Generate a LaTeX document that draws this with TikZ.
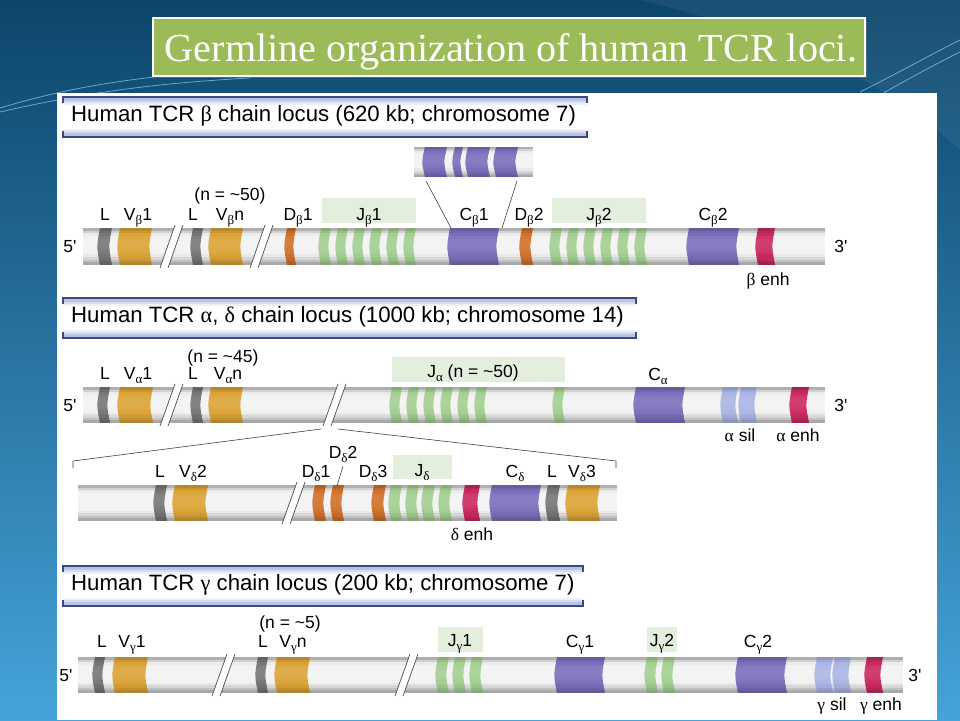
\documentclass[tikz,border=0pt]{standalone}
\usepackage{graphicx}
\usepackage{fontspec}
\setmainfont{Liberation Sans}
\newfontfamily\grk{Liberation Serif}
\newfontfamily\ttlfont{Liberation Serif}
\usetikzlibrary{shadows}

\definecolor{bgtop}{HTML}{0C456A}
\definecolor{bgbot}{HTML}{46A3D9}
\definecolor{ttlgreen}{HTML}{9BBB59}
\definecolor{hdrline}{HTML}{3B4A7A}
\definecolor{hdrband}{HTML}{B7C2E6}
\definecolor{barbase}{HTML}{F2F2F2}
\definecolor{vgold}{HTML}{DBA336}
\definecolor{lgray}{HTML}{767676}
\definecolor{dorange}{HTML}{CF712B}
\definecolor{jgreen}{HTML}{A2CE90}
\definecolor{jbox}{HTML}{E3EFDC}
\definecolor{cpurple}{HTML}{7D6EBB}
\definecolor{enhred}{HTML}{CB2A5E}
\definecolor{silblue}{HTML}{AAB5E4}
\definecolor{swoosh}{HTML}{7FD3F0}

\newcommand{\sbs}[1]{\raisebox{-0.28em}{\fontsize{13}{13}\selectfont\grk #1}}
\newcommand{\prm}{\textquotesingle}
% banded cylinder fill: colour x1 x2 ytop ybot Ledge Lmid
\newcommand{\cylbands}[7]{%
  \foreach \ci in {0,...,13}{%
    \pgfmathsetmacro{\cyT}{(\ci+0.5)/14}%
    \pgfmathsetmacro{\cyL}{\cyT<0.4 ? #7+(#6-#7)*((0.4-\cyT)/0.4)^2 : #7+(#6-#7)*((\cyT-0.4)/0.6)^2}%
    \pgfmathsetmacro{\cya}{#4+(#5-#4)*\ci/14}%
    \pgfmathsetmacro{\cyb}{#4+(#5-#4)*(\ci+1)/14+0.4}%
    \ifdim\cyL pt<0pt
      \pgfmathsetmacro{\cyk}{100+\cyL}\fill[#1!\cyk!black] ({#2},{\cya}) rectangle ({#3},{\cyb});
    \else
      \pgfmathsetmacro{\cyk}{100-\cyL}\fill[#1!\cyk!white] ({#2},{\cya}) rectangle ({#3},{\cyb});
    \fi}}
% chromosome bar: x1 x2 ytop ybot
\newcommand{\chrbar}[4]{\begin{scope}\clip ({#1},{#3}) rectangle ({#2},{#4});\cylbands{barbase}{#1}{#2}{#3}{#4}{-36}{12}\end{scope}}
% segment: colour x1 x2 ytop ybot
\newcommand{\sgm}[5]{\begin{scope}\clip ({#2},{#4}) .. controls ({#2-3.5},{(#4+#5)/2}) .. ({#2},{#5}) -- ({#3},{#5}) .. controls ({#3-3.5},{(#4+#5)/2}) .. ({#3},{#4}) -- cycle;
  \cylbands{#1}{#2-3}{#3+1}{#4}{#5}{-22}{10}\end{scope}}
% break: xbottom ytop ybot
\newcommand{\brk}[3]{\fill[white] ({#1},{#3+3}) -- ({#1+15},{#2-3}) -- ({#1+23},{#2-3}) -- ({#1+8},{#3+3}) -- cycle;
  \draw[brkline] ({#1},{#3+3}) -- ({#1+15},{#2-3}) ({#1+8},{#3+3}) -- ({#1+23},{#2-3});}
% header: name ytop xright text
\newcommand{\hdr}[4]{\fill[hdrband] (63,{#2}) rectangle ({#3},{#2+4});
  \fill[hdrband!55!white] (63,{#2+4}) rectangle ({#3},{#2+6});
  \fill[hdrband!25!white] (63,{#2+6}) rectangle ({#3},{#2+8});
  \fill[hdrband!25!white] (63,{#2+32}) rectangle ({#3},{#2+34});
  \fill[hdrband!55!white] (63,{#2+34}) rectangle ({#3},{#2+36});
  \fill[hdrband] (63,{#2+36}) rectangle ({#3},{#2+40});
  \draw[hdrline, line width=1.6pt] (63,{#2+6}) -- (63,{#2}) -- ({#3},{#2}) -- ({#3},{#2+6});
  \draw[hdrline, line width=1.6pt] (63,{#2+34}) -- (63,{#2+40}) -- ({#3},{#2+40}) -- ({#3},{#2+34});
  \node[hdrtext] (#1) at (71,{#2+24}) {#4};}

\begin{document}
\begin{tikzpicture}[x=1pt,y=-1pt,
  lbl/.style={font=\fontsize{17.5}{17.5}\selectfont, inner sep=0pt, anchor=base},
  hdrtext/.style={font=\fontsize{22.2}{22.2}\selectfont, inner sep=0pt, anchor=base west},
  brkline/.style={draw=black!70, line width=0.7pt},
  zoomline/.style={draw=black!75, line width=0.6pt}]
\useasboundingbox (0,0) rectangle (960,720);

% background
\shade[top color=bgtop, bottom color=bgbot] (0,0) rectangle (960,720);
\begin{scope}[swoosh, line width=0.8pt, opacity=0.7]
  \draw (0,108) .. controls (60,90) and (120,78) .. (230,70);
  \draw (0,112) .. controls (70,96) and (140,84) .. (250,78);
  \draw (860,92) .. controls (900,72) and (930,55) .. (960,40);
  \draw (880,95) .. controls (915,75) and (940,62) .. (960,52);
\end{scope}
\fill[white, opacity=0.06] (640,0) .. controls (760,30) and (860,60) .. (960,150) -- (960,0) -- cycle;

% title
\node[fill=ttlgreen, draw=white, line width=1.5pt, minimum width=712pt, minimum height=58pt,
  drop shadow={shadow xshift=2pt, shadow yshift=-2pt, opacity=0.45}] (titlebox) at (509,47) {};
\node[text=white, inner sep=0pt, anchor=base] (title) at (511,61)
  {\resizebox{692pt}{28pt}{\ttlfont Germline organization of human TCR loci.}};

% white panel
\fill[white] (57,93) rectangle (937,720);

% headers
\hdr{hB}{97}{587}{Human TCR {\grk β} chain locus (620 kb; chromosome 7)}
\hdr{hA}{298}{636}{Human TCR {\grk α}, {\grk δ} chain locus (1000 kb; chromosome 14)}
\hdr{hG}{566}{583}{Human TCR {\grk γ} chain locus (200 kb; chromosome 7)}

% ================= beta =================
\fill[jbox] (322,198) rectangle (416,223);
\fill[jbox] (552,198) rectangle (646,223);
\chrbar{83}{825}{228}{265}
\sgm{lgray}{100}{112}{228}{265}
\sgm{vgold}{120}{152}{228}{265}
\sgm{lgray}{193}{203}{228}{265}
\sgm{vgold}{211}{243}{228}{265}
\sgm{dorange}{287}{296}{228}{265}
\foreach \x in {321,338,355,372,389,406} {\sgm{jgreen}{\x}{\x+10}{228}{265}}
\sgm{cpurple}{450}{499}{228}{265}
\sgm{dorange}{522}{533}{228}{265}
\foreach \x in {552,569,586,603,620,637} {\sgm{jgreen}{\x}{\x+10}{228}{265}}
\sgm{cpurple}{689}{739}{228}{265}
\sgm{enhred}{758}{775}{228}{265}
\brk{160}{228}{265}
\brk{250}{228}{265}
% inset of C beta 1
\chrbar{414}{533}{147}{177}
\sgm{cpurple}{425}{447}{147}{177}
\sgm{cpurple}{455}{463}{147}{177}
\sgm{cpurple}{468}{490}{147}{177}
\sgm{cpurple}{496}{518}{147}{177}
\coordinate (insL) at (426,181);
\coordinate (insR) at (517,181);
\coordinate (cb1L) at (451,228);
\coordinate (cb1R) at (502,228);
\draw[zoomline] (insL) -- (cb1L);
\draw[zoomline] (insR) -- (cb1R);

\node[lbl] (b5) at (70,252) {5\prm};
\node[lbl] (b3) at (841,252) {3\prm};
\node[lbl] (bL1) at (105,220) {L};
\node[lbl] (bV1) at (138,220) {V\sbs{β}1};
\node[lbl] (bn) at (230,200) {(n = \textasciitilde50)};
\node[lbl] (bL2) at (193,220) {L};
\node[lbl] (bVn) at (230,220) {V\sbs{β}n};
\node[lbl] (bD1) at (298,220) {D\sbs{β}1};
\node[lbl] (bJ1) at (369,220) {J\sbs{β}1};
\node[lbl] (bC1) at (474,220) {C\sbs{β}1};
\node[lbl] (bD2) at (529,220) {D\sbs{β}2};
\node[lbl] (bJ2) at (599,220) {J\sbs{β}2};
\node[lbl] (bC2) at (713,220) {C\sbs{β}2};
\node[lbl] (benh) at (768,285) {{\grk β} enh};

% ================= alpha =================
\fill[jbox] (392,357) rectangle (565,382);
\chrbar{83}{825}{387}{423}
\sgm{lgray}{100}{110}{387}{423}
\sgm{vgold}{120}{153}{387}{423}
\sgm{lgray}{193}{203}{387}{423}
\sgm{vgold}{211}{243}{387}{423}
\foreach \x in {392,409,426,443,460,477} {\sgm{jgreen}{\x}{\x+10}{387}{423}}
\sgm{jgreen}{555}{565}{387}{423}
\sgm{cpurple}{636}{685}{387}{423}
\sgm{silblue}{723}{738}{387}{423}
\sgm{silblue}{741}{757}{387}{423}
\sgm{enhred}{792}{809}{387}{423}
\brk{160}{387}{423}
\brk{323}{387}{423}

\node[lbl] (a5) at (70,411) {5\prm};
\node[lbl] (a3) at (841,411) {3\prm};
\node[lbl] (aL1) at (105,379) {L};
\node[lbl] (aV1) at (138,379) {V\sbs{α}1};
\node[lbl] (an) at (223,362) {(n = \textasciitilde45)};
\node[lbl] (aL2) at (193,379) {L};
\node[lbl] (aVn) at (228,379) {V\sbs{α}n};
\node[lbl] (aJ) at (473,377) {J\sbs{α} (n = \textasciitilde50)};
\node[lbl] (aC) at (658,380) {C\sbs{α}};
\node[lbl] (asil) at (740,441) {{\grk α} sil};
\node[lbl] (aenh) at (798,441) {{\grk α} enh};

% expansion lines to delta
\coordinate (abL) at (321,429);
\coordinate (abR) at (338,429);
\coordinate (dbL) at (73,461);
\coordinate (dbR) at (616,461);
\draw[zoomline] (abL) -- (dbL) -- ++(0,7);
\draw[zoomline] (abR) -- (dbR) -- ++(0,7);

% ================= delta =================
\fill[jbox] (393,455) rectangle (452,479);
\chrbar{78}{617}{485}{521}
\sgm{lgray}{156}{167}{485}{521}
\sgm{vgold}{175}{208}{485}{521}
\sgm{dorange}{315}{326}{485}{521}
\sgm{dorange}{333}{344}{485}{521}
\sgm{dorange}{374}{386}{485}{521}
\foreach \x in {391,408,424,441} {\sgm{jgreen}{\x}{\x+11}{485}{521}}
\sgm{enhred}{465}{480}{485}{521}
\sgm{cpurple}{492}{541}{485}{521}
\sgm{lgray}{548}{560}{485}{521}
\sgm{vgold}{568}{600}{485}{521}
\brk{282}{485}{521}

\node[lbl] (dL1) at (160,477) {L};
\node[lbl] (dV2) at (193,477) {V\sbs{δ}2};
\node[lbl] (dD1) at (316,477) {D\sbs{δ}1};
\node[lbl] (dD2) at (343,458) {D\sbs{δ}2};
\node[lbl] (dD3) at (373,477) {D\sbs{δ}3};
\node[lbl] (dJ) at (422,476) {J\sbs{δ}};
\node[lbl] (dC) at (515,477) {C\sbs{δ}};
\node[lbl] (dL2) at (552,477) {L};
\node[lbl] (dV3) at (582,477) {V\sbs{δ}3};
\node[lbl] (denh) at (472,540) {{\grk δ} enh};
\coordinate (dD2seg) at (337,486);
\draw[zoomline] ([yshift=-3pt]dD2.south) -- (dD2seg);

% ================= gamma =================
\fill[jbox] (438,627) rectangle (483,652);
\fill[jbox] (647,627) rectangle (677,652);
\chrbar{78}{903}{657}{693}
\sgm{lgray}{95}{105}{657}{693}
\sgm{vgold}{115}{148}{657}{693}
\sgm{lgray}{258}{268}{657}{693}
\sgm{vgold}{277}{310}{657}{693}
\foreach \x in {438,455,472} {\sgm{jgreen}{\x}{\x+11}{657}{693}}
\sgm{cpurple}{557}{605}{657}{693}
\foreach \x in {647,664} {\sgm{jgreen}{\x}{\x+11}{657}{693}}
\sgm{cpurple}{738}{787}{657}{693}
\sgm{silblue}{817}{833}{657}{693}
\sgm{silblue}{835}{851}{657}{693}
\sgm{enhred}{867}{883}{657}{693}
\brk{212}{657}{693}
\brk{395}{657}{693}

\node[lbl] (g5) at (66,681) {5\prm};
\node[lbl] (g3) at (915,681) {3\prm};
\node[lbl] (gL1) at (102,647) {L};
\node[lbl] (gV1) at (132,647) {V\sbs{γ}1};
\node[lbl] (gn) at (290,628) {(n = \textasciitilde5)};
\node[lbl] (gL2) at (263,647) {L};
\node[lbl] (gVn) at (293,647) {V\sbs{γ}n};
\node[lbl] (gJ1) at (460,646) {J\sbs{γ}1};
\node[lbl] (gC1) at (580,647) {C\sbs{γ}1};
\node[lbl] (gJ2) at (662,646) {J\sbs{γ}2};
\node[lbl] (gC2) at (758,647) {C\sbs{γ}2};
\node[lbl] (gsil) at (832,710) {{\grk γ} sil};
\node[lbl] (genh) at (881,710) {{\grk γ} enh};
\end{tikzpicture}
\end{document}
